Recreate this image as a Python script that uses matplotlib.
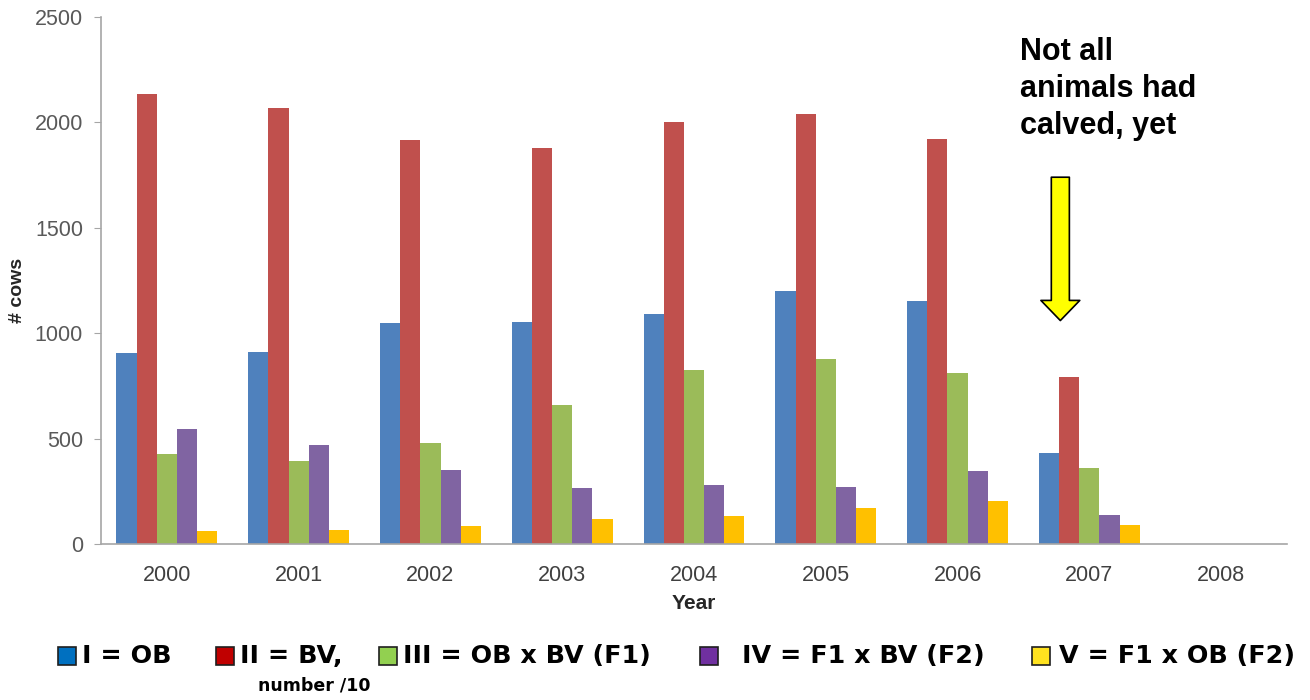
import numpy as np
import matplotlib
matplotlib.use("Agg")
import matplotlib.pyplot as plt
import matplotlib.patches as mpatches

# --- Donnees ---
years = ["2000", "2001", "2002", "2003", "2004", "2005", "2006", "2007", "2008"]
ob = [907, 912, 1048, 1053, 1092, 1200, 1154, 430, np.nan]
bv = [2135, 2069, 1916, 1878, 2002, 2040, 1921, 794, np.nan]
ob_x_bv = [425, 395, 478, 659, 825, 876, 810, 360, np.nan]
f1_x_bv = [547, 468, 351, 267, 281, 270, 345, 139, np.nan]
f1_x_ob = [60, 67, 87, 117, 135, 172, 205, 92, np.nan]

series = [ob, bv, ob_x_bv, f1_x_bv, f1_x_ob]
bar_colors = ["#4F81BD", "#C0504D", "#9BBB59", "#8064A2", "#FFC000"]
legend_labels = ["I = OB", "II = BV,", "III = OB x BV (F1)", "IV = F1 x BV (F2)", "V = F1 x OB (F2)"]
legend_colors = ["#0070C0", "#C00000", "#92D050", "#7030A0", "#FFE21F"]

W, H = 1310, 700
fig = plt.figure(figsize=(W / 100, H / 100), dpi=100)
ax = fig.add_axes([101 / W, 156 / H, 1186 / W, 527 / H])

x = np.arange(len(years))
largeur = 0.153
for i, (vals, col) in enumerate(zip(series, bar_colors)):
    ax.bar(x + (i - 2) * largeur, vals, largeur, color=col, linewidth=0)

ax.set_xlim(-0.5, len(years) - 0.5)
ax.set_ylim(0, 2500)
ax.set_yticks(range(0, 2501, 500))
ax.set_xticks(x)
ax.set_xticklabels(years)

for s in ["top", "right"]:
    ax.spines[s].set_visible(False)
for s in ["left", "bottom"]:
    ax.spines[s].set_color("#A6A6A6")
    ax.spines[s].set_linewidth(1.2)

ax.tick_params(axis="y", length=5, color="#A6A6A6", labelsize=15.5, labelcolor="#595959", pad=8)
ax.tick_params(axis="x", length=0, labelsize=15.5, labelcolor="#404040", pad=15)
for lab in ax.get_xticklabels() + ax.get_yticklabels():
    lab.set_family("Liberation Sans")

ax.set_xlabel("Year", fontsize=15, fontweight="bold", family="Liberation Sans", color="#262626", labelpad=6)
fig.text(18 / W, 1 - 290 / H, "# cows", fontsize=14, fontweight="bold", family="Liberation Sans",
         color="#262626", rotation=90, ha="center", va="center")

# --- Annotation + fleche jaune ---
fig.text(1020 / W, 1 - 37 / H, "Not all\nanimals had\ncalved, yet", fontsize=22, fontweight="bold",
         family="Liberation Sans", va="top", ha="left", linespacing=1.3)
ax.annotate("", xy=(6.78, 1060), xytext=(6.78, 1740),
            arrowprops=dict(arrowstyle="simple,head_length=1.45,head_width=2.8,tail_width=1.3",
                            fc="#FFFF00", ec="black", lw=1.2, shrinkA=0, shrinkB=0,
                            mutation_scale=10))

# --- Legende manuelle en bas ---
carre_x = [58, 216, 379, 700, 1032]
texte_x = [82, 240, 403, 742, 1059]
y_leg = 656
for cx, tx, lab, col in zip(carre_x, texte_x, legend_labels, legend_colors):
    fig.patches.append(mpatches.Rectangle((cx / W, 1 - (y_leg + 9) / H), 18 / W, 18 / H,
                                          transform=fig.transFigure, facecolor=col,
                                          edgecolor="#1F1F1F", linewidth=1.2))
    fig.text(tx / W, 1 - y_leg / H, lab, fontsize=18.3, fontweight="bold",
             family="DejaVu Sans", va="center", ha="left")
fig.text(258 / W, 1 - 686 / H, "number /10", fontsize=12.5, fontweight="bold",
         family="DejaVu Sans", va="center", ha="left")

fig.savefig("out.png", dpi=100)
